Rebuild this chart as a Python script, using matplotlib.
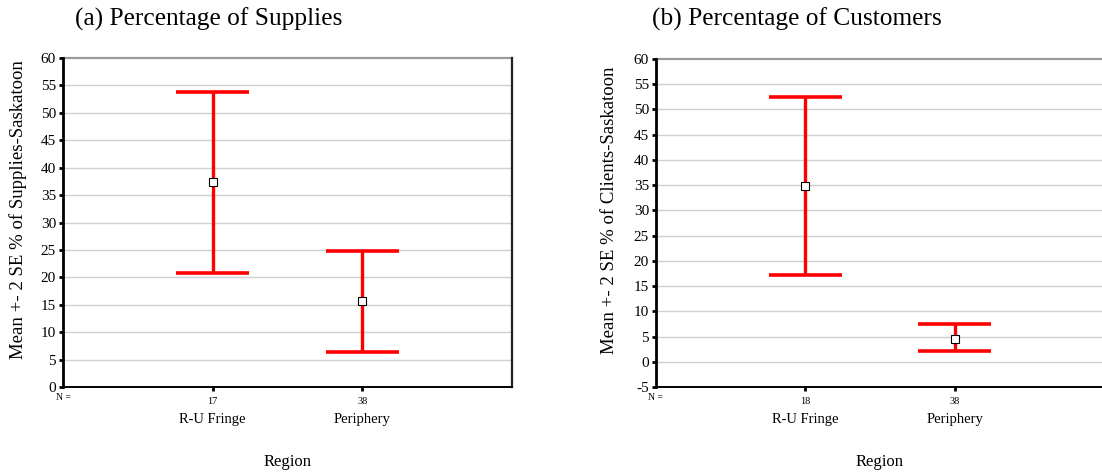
import matplotlib
matplotlib.use("Agg")
import matplotlib.pyplot as plt
import matplotlib.transforms as mtransforms

plt.rcParams["font.family"] = ["Liberation Serif", "DejaVu Serif"]

# Data: mean with +/- 2 SE bounds per region
regions = ["R-U Fringe", "Periphery"]

supplies_n = [17, 38]
supplies_mean = [37.3, 15.7]
supplies_lower = [20.8, 6.4]
supplies_upper = [53.8, 24.8]

clients_n = [18, 38]
clients_mean = [34.8, 4.6]
clients_lower = [17.1, 2.1]
clients_upper = [52.4, 7.4]

W, H = 1102, 474
fig = plt.figure(figsize=(W / 100, H / 100), dpi=100)


def px_axes(left, top, right, bottom):
    return fig.add_axes([left / W, 1 - bottom / H, (right - left) / W, (bottom - top) / H])


def draw_panel(ax, title, ylabel, n, mean, lower, upper, ylim, show_right, ylabel_x, title_x):
    xs = list(range(1, len(regions) + 1))
    ax.set_xlim(0, 3)
    ax.set_ylim(*ylim)
    yt = list(range(ylim[0], ylim[1] + 1, 5))
    ax.set_yticks(yt)
    ax.set_yticklabels([str(v) for v in yt], fontsize=11)
    # lift the bottom label a little off the x axis
    lbl0 = ax.get_yticklabels()[0]
    lbl0.set_transform(lbl0.get_transform() + mtransforms.ScaledTranslation(0, 6 / 100, fig.dpi_scale_trans))
    for v in yt:
        if v in (ylim[0], ylim[1]):
            continue
        ax.axhline(v, color="#cfcfcf", lw=1.0, zorder=0)
    ax.axhline(ylim[1], color="#9a9a9a", lw=1.6, zorder=0, clip_on=False)

    # error bars and caps
    cap = 0.245
    for x, m, lo, hi in zip(xs, mean, lower, upper):
        ax.plot([x, x], [lo, hi], color="#ff0000", lw=2.4, solid_capstyle="butt", zorder=2)
        ax.plot([x - cap, x + cap], [lo, lo], color="#ff0000", lw=2.6, solid_capstyle="butt", zorder=2)
        ax.plot([x - cap, x + cap], [hi, hi], color="#ff0000", lw=2.6, solid_capstyle="butt", zorder=2)
    ax.plot(xs, mean, linestyle="none", marker="s", markersize=5.2,
            markerfacecolor="white", markeredgecolor="black", markeredgewidth=0.8, zorder=3)

    ax.set_xticks(xs)
    ax.set_xticklabels([str(v) for v in n], fontsize=7.5)
    ax.tick_params(axis="x", length=3, width=2, pad=4, color="black")
    ax.tick_params(axis="y", length=3, width=2, pad=2, color="black")

    ax.spines["top"].set_visible(False)
    ax.spines["left"].set_linewidth(2.0)
    ax.spines["bottom"].set_linewidth(1.4)
    if show_right:
        ax.spines["right"].set_linewidth(1.6)
        ax.spines["right"].set_color("#222222")
    else:
        ax.spines["right"].set_visible(False)

    trans = mtransforms.blended_transform_factory(ax.transData, ax.transAxes)
    for x, name in zip(xs, regions):
        ax.text(x, -0.098, name, transform=trans, ha="center", va="center", fontsize=10.5)
    ax.text(0.0, -0.033, "N =", transform=trans, ha="center", va="center", fontsize=7)
    ax.text(0.5, -0.228, "Region", transform=ax.transAxes, ha="center", va="center", fontsize=12)

    fig.text(ylabel_x / W, 1 - 210 / H, ylabel, rotation=90, ha="center", va="center", fontsize=13.5)
    fig.text(title_x / W, 1 - 19 / H, title, ha="left", va="center", fontsize=18.3)


ax1 = px_axes(63, 58, 512, 387)
draw_panel(ax1, "(a) Percentage of Supplies", "Mean +- 2 SE % of Supplies-Saskatoon",
           supplies_n, supplies_mean, supplies_lower, supplies_upper, (0, 60), True, 18, 75)

ax2 = px_axes(656, 59, 1104, 387)
draw_panel(ax2, "(b) Percentage of Customers", "Mean +- 2 SE % of Clients-Saskatoon",
           clients_n, clients_mean, clients_lower, clients_upper, (-5, 60), False, 610, 652)

fig.savefig("out.png", dpi=100)
